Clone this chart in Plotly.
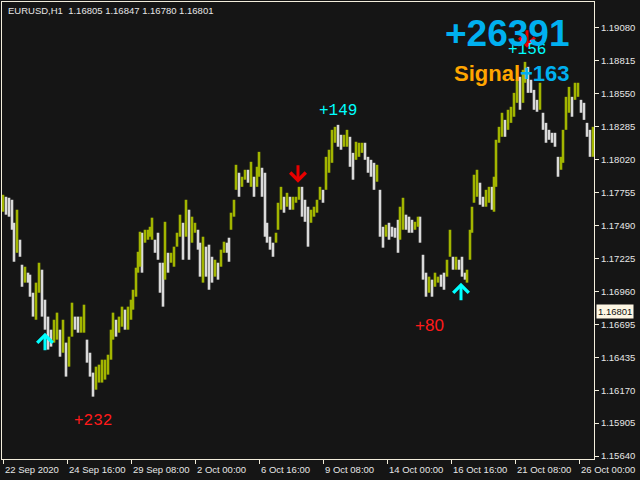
import plotly.graph_objects as go

# ---- price data (H1 bars, sampled) ----
hours = [0, 3, 6, 9, 11, 14, 17, 19, 22, 25, 27, 30, 33, 36, 39, 42, 45, 48, 51, 54,
         57, 60, 63, 66, 69, 72, 75, 78, 81, 84, 87, 90, 93, 96, 99, 102, 105, 108, 110, 113,
         116, 119, 122, 125, 128, 130, 133, 135, 137, 139, 142, 145, 147, 149, 152, 155, 157, 160, 162, 165,
         168, 171, 174, 177, 180, 183, 186, 189, 192, 195, 197, 200, 203, 206, 209, 212, 215, 218, 221, 224,
         226, 228, 231, 233, 236, 239, 242, 245, 248, 251, 254, 256, 259, 262, 264, 267, 270, 273, 275, 278,
         281, 284, 287, 290, 293, 296, 299, 302, 305, 308, 311, 314, 317, 320, 323, 326, 329, 332, 335, 338,
         341, 344, 347, 350, 353, 356, 359, 362, 365, 368, 371, 374, 377, 380, 383, 386, 389, 392, 395, 397,
         400, 403, 406, 409, 412, 415, 417, 420, 423, 426, 429, 432, 435, 438, 441, 444, 447, 450, 453, 456,
         459, 462, 464, 467, 469, 471, 474, 477, 480, 483, 486, 489, 491, 493, 496, 499, 502, 505, 508, 511,
         514, 517, 520, 522, 525, 528, 531, 534, 537, 540, 543, 546, 549, 552, 555, 558, 560, 563, 566, 569,
         572, 575, 578, 581, 584, 587, 590]

highs = [1.17739, 1.17723, 1.17715, 1.17699, 1.17514, 1.17619, 1.17378, 1.17177, 1.17161, 1.17113,
         1.17097, 1.16952, 1.17033, 1.17193, 1.17137, 1.16896, 1.16760, 1.16655, 1.16735, 1.16792,
         1.16655, 1.16735, 1.16551, 1.16599, 1.16872, 1.16760, 1.16760, 1.16760, 1.16856, 1.16575,
         1.16470, 1.16310, 1.16358, 1.16374, 1.16414, 1.16414, 1.16454, 1.16655, 1.16792, 1.16735,
         1.16760, 1.16840, 1.16816, 1.16840, 1.16896, 1.16976, 1.17153, 1.17281, 1.17442, 1.17434,
         1.17458, 1.17458, 1.17482, 1.17555, 1.17378, 1.17434, 1.17193, 1.17193, 1.17522, 1.17273,
         1.17273, 1.17322, 1.17434, 1.17579, 1.17514, 1.17699, 1.17619, 1.17563, 1.17514, 1.17458,
         1.17354, 1.17402, 1.17322, 1.17338, 1.17241, 1.17217, 1.17193, 1.17298, 1.17362, 1.17354,
         1.17394, 1.17595, 1.17699, 1.17980, 1.17916, 1.17884, 1.17940, 1.17940, 1.18004, 1.17884,
         1.17964, 1.18084, 1.17956, 1.17916, 1.17514, 1.17402, 1.17354, 1.17434, 1.17675, 1.17803,
         1.17723, 1.17755, 1.17723, 1.17723, 1.17723, 1.17803, 1.17803, 1.17699, 1.17643, 1.17619,
         1.17643, 1.17699, 1.17803, 1.17779, 1.18044, 1.18101, 1.18261, 1.18285, 1.18301, 1.18221,
         1.18221, 1.18261, 1.18205, 1.18076, 1.18165, 1.18157, 1.18157, 1.18157, 1.18044, 1.18020,
         1.17996, 1.17980, 1.17779, 1.17482, 1.17498, 1.17514, 1.17482, 1.17474, 1.17538, 1.17643,
         1.17715, 1.17579, 1.17563, 1.17538, 1.17522, 1.17563, 1.17563, 1.17257, 1.17113, 1.17081,
         1.17057, 1.17113, 1.17081, 1.17097, 1.17113, 1.17217, 1.17458, 1.17241, 1.17241, 1.17217,
         1.17241, 1.17113, 1.17137, 1.17458, 1.17643, 1.17900, 1.17940, 1.17836, 1.17723, 1.17779,
         1.17803, 1.17803, 1.17884, 1.18181, 1.18285, 1.18398, 1.18341, 1.18422, 1.18446, 1.18558,
         1.18663, 1.18687, 1.18743, 1.18807, 1.18767, 1.18663, 1.18582, 1.18502, 1.18639, 1.18398,
         1.18317, 1.18261, 1.18237, 1.18237, 1.18044, 1.18044, 1.18261, 1.18526, 1.18606, 1.18526,
         1.18639, 1.18639, 1.18502, 1.18478, 1.18317, 1.18261, 1.18285]

lows = [1.17603, 1.17579, 1.17563, 1.17458, 1.17201, 1.17273, 1.17241, 1.17000, 1.17033, 1.17033,
        1.16920, 1.16760, 1.16735, 1.16952, 1.16760, 1.16655, 1.16495, 1.16519, 1.16551, 1.16575,
        1.16438, 1.16470, 1.16278, 1.16358, 1.16599, 1.16655, 1.16631, 1.16631, 1.16631, 1.16390,
        1.16278, 1.16117, 1.16173, 1.16230, 1.16230, 1.16254, 1.16294, 1.16414, 1.16575, 1.16599,
        1.16631, 1.16679, 1.16655, 1.16655, 1.16735, 1.16816, 1.16920, 1.17113, 1.17161, 1.17113,
        1.17354, 1.17378, 1.17402, 1.17378, 1.17273, 1.17217, 1.16952, 1.16840, 1.17057, 1.17113,
        1.17193, 1.17161, 1.17322, 1.17402, 1.17217, 1.17402, 1.17217, 1.17354, 1.17434, 1.17298,
        1.17081, 1.17033, 1.17081, 1.16976, 1.17033, 1.17081, 1.17057, 1.17161, 1.17273, 1.17273,
        1.17201, 1.17458, 1.17563, 1.17779, 1.17723, 1.17803, 1.17860, 1.17836, 1.17803, 1.17723,
        1.17803, 1.17884, 1.17723, 1.17402, 1.17354, 1.17298, 1.17241, 1.17354, 1.17458, 1.17619,
        1.17595, 1.17643, 1.17619, 1.17619, 1.17675, 1.17699, 1.17563, 1.17522, 1.17322, 1.17514,
        1.17563, 1.17595, 1.17699, 1.17675, 1.17779, 1.17916, 1.17996, 1.18157, 1.18125, 1.18101,
        1.18125, 1.18125, 1.17964, 1.17860, 1.18020, 1.18044, 1.18076, 1.18020, 1.17916, 1.17884,
        1.17779, 1.17844, 1.17402, 1.17314, 1.17402, 1.17378, 1.17402, 1.17394, 1.17273, 1.17378,
        1.17458, 1.17458, 1.17434, 1.17434, 1.17458, 1.17482, 1.17354, 1.17057, 1.16920, 1.16952,
        1.16920, 1.17000, 1.17033, 1.17000, 1.16976, 1.17081, 1.17241, 1.17137, 1.17137, 1.17137,
        1.17081, 1.17057, 1.17033, 1.17217, 1.17434, 1.17675, 1.17723, 1.17659, 1.17643, 1.17643,
        1.17675, 1.17619, 1.17603, 1.17803, 1.18157, 1.18205, 1.18205, 1.18261, 1.18317, 1.18366,
        1.18478, 1.18422, 1.18478, 1.18639, 1.18558, 1.18558, 1.18422, 1.18406, 1.18422, 1.18261,
        1.18157, 1.18181, 1.18157, 1.18125, 1.17884, 1.17940, 1.17996, 1.18261, 1.18398, 1.18366,
        1.18502, 1.18526, 1.18398, 1.18341, 1.18205, 1.18044, 1.18044]

# ---- axes ----
y_tick_vals = [1.19080, 1.18815, 1.18551, 1.18286, 1.18022, 1.17757, 1.17492,
               1.17228, 1.16963, 1.16699, 1.16434, 1.16169, 1.15905, 1.15640]
y_tick_text = ["1.19080", "1.18815", "1.18550", "1.18285", "1.18020", "1.17755", "1.17490",
               "1.17225", "1.16960", "1.16695", "1.16435", "1.16170", "1.15905", "1.15640"]
date_hours = [0, 64, 128, 192, 256, 320, 384, 448, 512, 576]
date_labels = ["22 Sep 2020", "24 Sep 16:00", "29 Sep 08:00", "2 Oct 00:00", "6 Oct 16:00",
               "9 Oct 08:00", "14 Oct 00:00", "16 Oct 16:00", "21 Oct 08:00", "26 Oct 00:00"]

# ---- signals (arrow tip positions) ----
arrow_hours = [42, 458, 295, 524]
arrow_prices = [1.16631, 1.17033, 1.17836, 1.18920]
arrow_dirs = ["up", "up", "down", "down"]

profit_text = ["+232", "+149", "+80", "+156"]
profit_hours = [90, 335, 426, 524]
profit_prices = [1.15924, 1.18414, 1.16687, 1.18904]
profit_colors = ["#ff1a1a", "#00ffff", "#ff1a1a", "#00ffff"]
profit_fonts = ["Liberation Mono", "Liberation Mono", "Liberation Sans", "Liberation Mono"]

header = "EURUSD,H1  1.16805 1.16847 1.16780 1.16801"
last_price = 1.16801
total_text = "+26391"
signal_value = "+163"

GREEN = "#a2b500"
WHITE = "#d9d9d9"
BG = "#151515"
AXIS = "#f3eedc"
TXT = "#e6e6e6"

gx, gy, wx, wy = [], [], [], []
prev_mid = None
for h, hi, lo in zip(hours, highs, lows):
    mid = (hi + lo) / 2
    up = prev_mid is None or mid >= prev_mid
    prev_mid = mid
    if up:
        gx += [h, h, None]; gy += [lo, hi, None]
    else:
        wx += [h, h, None]; wy += [lo, hi, None]

fig = go.Figure()
fig.add_trace(go.Scatter(x=wx, y=wy, mode="lines", line=dict(color=WHITE, width=2.6),
                         hoverinfo="skip", showlegend=False))
fig.add_trace(go.Scatter(x=gx, y=gy, mode="lines", line=dict(color=GREEN, width=2.6),
                         hoverinfo="skip", showlegend=False))

ann = []
for h, p, d in zip(arrow_hours, arrow_prices, arrow_dirs):
    ann.append(dict(x=h, y=p, xref="x", yref="y", text="", showarrow=True,
                    arrowhead=4, arrowsize=1.0, arrowwidth=3, ax=0,
                    ay=19 if d == "up" else -19,
                    arrowcolor="#00ffff" if d == "up" else "#e80000"))
for t, h, p, c, f in zip(profit_text, profit_hours, profit_prices, profit_colors, profit_fonts):
    ann.append(dict(x=h, y=p, xref="x", yref="y", showarrow=False, text=t,
                    font=dict(family=f, size=16 if f != "Liberation Sans" else 17, color=c)))

ann.append(dict(x=0.963, y=0.932, xref="paper", yref="paper", xanchor="right", yanchor="middle",
                showarrow=False, text="<b>" + total_text + "</b>",
                font=dict(family="Liberation Sans", size=37, color="#00b0f0")))
ann.append(dict(x=0.963, y=0.8425, xref="paper", yref="paper", xanchor="right", yanchor="middle",
                showarrow=False,
                text="<b><span style='color:#ffa500'>Signal</span>" + signal_value + "</b>",
                font=dict(family="Liberation Sans", size=22, color="#00b0f0")))
ann.append(dict(x=0.006, y=0.998, xref="paper", yref="paper", xanchor="left", yanchor="top",
                showarrow=False, text=header,
                font=dict(family="Liberation Sans", size=9.5, color=TXT)))
for h, lab in zip(date_hours, date_labels):
    ann.append(dict(x=h, y=0, xref="x", yref="paper", xanchor="left", yanchor="top",
                    yshift=-3, showarrow=False, text=lab,
                    font=dict(family="Liberation Sans", size=9.5, color=TXT)))
ann.append(dict(x=1, y=last_price, xref="paper", yref="y", xanchor="left", yanchor="middle",
                xshift=2, showarrow=False, text="%.5f" % last_price, bgcolor="#fdf6e3",
                borderpad=1, font=dict(family="Liberation Sans", size=9.5, color="#111111")))

fig.update_layout(
    width=640, height=480,
    margin=dict(l=2, r=46, t=2, b=21),
    paper_bgcolor=BG, plot_bgcolor=BG,
    annotations=ann,
    xaxis=dict(range=[-1, 591], showgrid=False, zeroline=False, tickvals=date_hours,
               showticklabels=False, ticks="outside", ticklen=4, tickcolor=AXIS,
               showline=True, linecolor=AXIS, linewidth=1, mirror=True, fixedrange=True),
    yaxis=dict(range=[1.15616, 1.19288], side="right", showgrid=False, zeroline=False,
               tickvals=y_tick_vals, ticktext=y_tick_text, ticks="outside", ticklen=4,
               tickcolor=AXIS, tickfont=dict(family="Liberation Sans", size=9.5, color=TXT),
               showline=True, linecolor=AXIS, linewidth=1, mirror=True, fixedrange=True),
)

fig.write_html("out.html", config={"displayModeBar": False},
               post_script="document.body.style.margin='0';document.body.style.background='#151515';")
